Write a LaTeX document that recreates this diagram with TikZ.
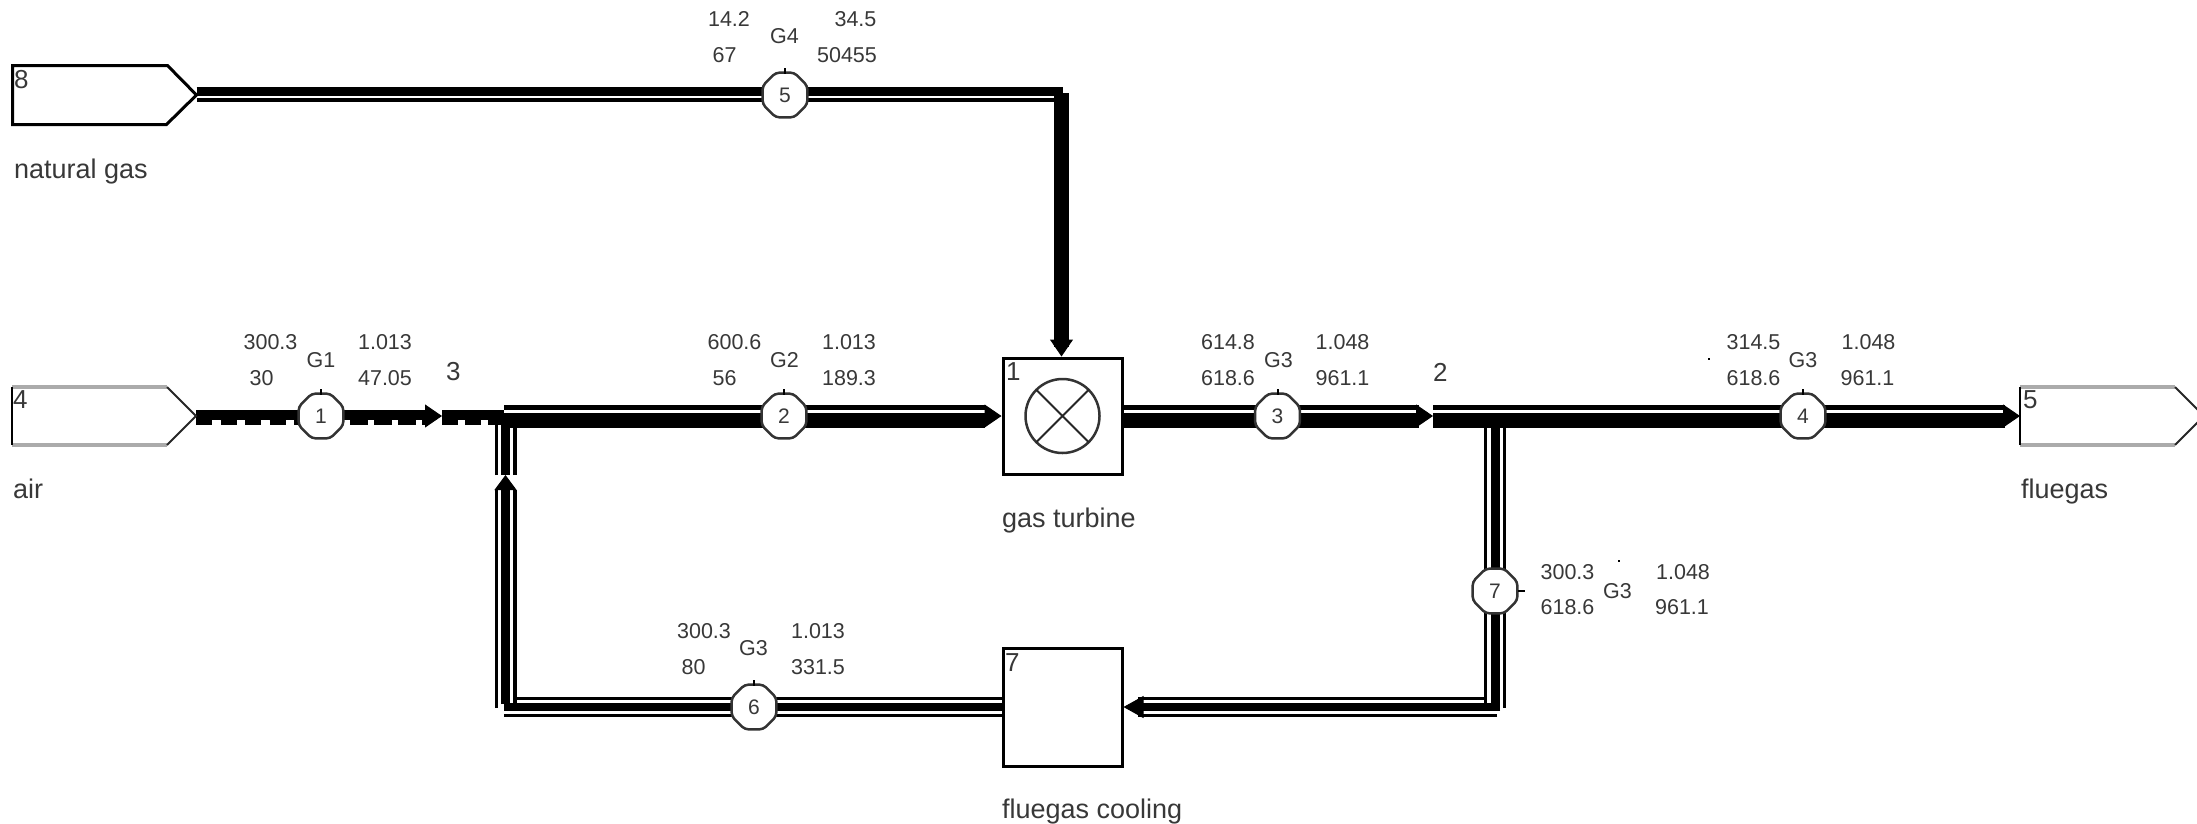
\documentclass[tikz,border=0pt]{standalone}
\usepackage{fontspec}
\setmainfont{Liberation Sans}
\usetikzlibrary{shapes.geometric,arrows.meta,backgrounds,calc}
\definecolor{txt}{gray}{0.22}
\definecolor{edgegray}{gray}{0.67}
\tikzset{
  datatxt/.style={inner sep=0pt,outer sep=0pt,text=txt,font=\fontsize{21.5pt}{24pt}\selectfont},
  nametxt/.style={inner sep=0pt,outer sep=0pt,anchor=base west,text=txt,font=\fontsize{27pt}{30pt}\selectfont},
  numtxt/.style={inner sep=0pt,outer sep=0pt,anchor=west,text=txt,font=\fontsize{26pt}{30pt}\selectfont},
  pump/.style={regular polygon,regular polygon sides=8,draw=black!80,line width=2.5pt,fill=white,rounded corners=4pt,
    minimum size=48.5pt,inner sep=0pt,outer sep=0pt,text=txt,font=\fontsize{21pt}{24pt}\selectfont},
  unitbox/.style={draw=black,line width=3pt,fill=white,minimum width=119pt,inner sep=0pt,outer sep=1.5pt},
  srcanchor/.style={inner sep=0pt,outer sep=0pt,minimum width=184pt},
  tick/.style={draw=black,line width=2pt},
  flow/.style={line width=1pt,-{Triangle[length=17pt,width=23pt]}},
  flowplain/.style={line width=1pt},
  wide/.style={line width=15pt},
  slim/.style={line width=5pt},
  midwide/.style={line width=8.5pt},
  hair/.style={line width=3.2pt},
}
\newcommand{\dlab}[4]{\node[datatxt] (#1) at (#2,#3) {#4};}
\newcommand{\mainduct}[3][0pt]{%
  \draw[wide,shorten >=#1] ([yshift=-4.5pt]#2) -- ([yshift=-4.5pt]#3);
  \draw[slim,shorten >=#1] ([yshift=8.5pt]#2) -- ([yshift=8.5pt]#3);}
\newcommand{\coolduct}[2]{%
  \draw[midwide] (#1) -- (#2);
  \draw[hair] ([yshift=8.5pt]#1) -- ([yshift=8.5pt]#2);
  \draw[hair] ([yshift=-8.5pt]#1) -- ([yshift=-8.5pt]#2);}
\begin{document}
\begin{tikzpicture}[x=1pt,y=-1pt]
\useasboundingbox (0,0) rectangle (2197,823);
\clip (0,0) rectangle (2197,823);

% sources and sinks
\node[srcanchor,minimum height=59pt] (src8) at (104.5,95) {};
\node[srcanchor,minimum height=58pt] (src4) at (104,416) {};
\node[srcanchor,minimum height=58pt] (src5) at (2112,416) {};
\draw[black,line width=3pt,line join=miter] (src8.north west) -- ++(155,0) -- (src8.east) -- ++(-30,29.5) -- (src8.south west) -- cycle;
\foreach \s in {src4,src5}{
  \draw[edgegray,line width=4pt] (\s.north west) -- ++(155,0);
  \draw[edgegray,line width=4pt] (\s.south west) -- ++(155,0);
  \draw[black!85,line width=2pt] ($(\s.north west)+(155,0)$) -- (\s.east) -- ($(\s.south west)+(155,0)$);
  \draw[black,line width=2pt] (\s.north west) -- (\s.south west);
}

% units
\node[unitbox,minimum height=116pt] (gt) at (1062.5,416) {};
\node[unitbox,minimum height=118pt] (fc) at (1062.5,707) {};
\node[circle,draw=black!80,line width=2.5pt,minimum size=74pt,inner sep=0pt,outer sep=0pt] (gtc) at (gt.center) {};
\draw[black!85,line width=2pt] (gtc.45) -- (gtc.225) (gtc.135) -- (gtc.315);

% measuring points
\node[pump] (p1) at (321,416) {1};
\node[pump] (p2) at (784,416) {2};
\node[pump] (p3) at (1277.5,416) {3};
\node[pump] (p4) at (1803,416) {4};
\node[pump] (p5) at (785,95) {5};
\node[pump] (p6) at (754,707) {6};
\node[pump] (p7) at (1495,591) {7};
\foreach \p in {p1,p2,p3,p4,p5,p6}{\draw[tick] ([yshift=-1pt]\p.north) -- ++(0,-6);}
\draw[tick] ([xshift=1pt]p7.east) -- ++(7,0);

% junctions
\coordinate (a3) at (442,416);
\coordinate (mix) at (504,416);
\coordinate (split) at (1433,416);
\coordinate (split7) at (1495,416);
\coordinate (c5) at (1061.5,95);
\coordinate (c7) at (1495,707);
\coordinate (c6) at (505.5,707);
\coordinate (a6) at (505.5,475);

\begin{scope}[on background layer]
  % natural gas
  \draw[line width=9pt] ([yshift=3.5pt]src8.east) -- ([yshift=3.5pt]p5.center);
  \draw[line width=4pt] ([yshift=-5pt]src8.east) -- ([yshift=-5pt]p5.center);
  \draw[line width=9pt] ([yshift=3.5pt]p5.center) -- ([yshift=3.5pt,xshift=1.5pt]c5);
  \draw[line width=4pt] ([yshift=-5pt]p5.center) -- ([yshift=-5pt]c5);
  \draw[line width=15pt,shorten >=10pt] ([yshift=2pt]c5) -- (c5 |- gt.north);
  \draw[flowplain] (src8) -- (p5);
  \draw[flowplain] (p5) -- (c5);
  \draw[flow] (c5) -- (c5 |- gt.north);

  % air
  \draw[line width=10pt] ([yshift=1pt]src4.east) -- ([yshift=1pt]p1.center);
  \draw[line width=5pt,dash pattern=on 16pt off 8.5pt] ([yshift=-6.5pt]src4.east) -- ([yshift=-6.5pt]p1.center);
  \draw[line width=10pt,shorten >=17pt] ([yshift=1pt]p1.center) -- ([yshift=1pt]a3);
  \draw[line width=5pt,dash pattern=on 18pt off 6pt,shorten >=17pt] ([yshift=-6.5pt,xshift=29pt]p1.center) -- ([yshift=-6.5pt]a3);
  \draw[line width=10pt] ([yshift=1pt]a3) -- ([yshift=1pt]mix);
  \draw[line width=5pt,dash pattern=on 16pt off 7pt] ([yshift=-6.5pt]a3) -- ([yshift=-6.5pt]mix);
  \draw[flowplain] (src4) -- (p1);
  \draw[flow] (p1) -- (a3);
  \draw[flowplain] (a3) -- (mix);

  % main line
  \mainduct{mix}{p2.center}
  \mainduct[17pt]{p2.center}{gt.west}
  \mainduct{gt.center}{p3.center}
  \mainduct[14pt]{p3.center}{split}
  \mainduct{split}{p4.center}
  \mainduct[15pt]{p4.center}{src5.west}
  \draw[flowplain] (mix) -- (p2);
  \draw[flow] (p2) -- (gt);
  \draw[flowplain] (gt) -- (p3);
  \draw[flow] (p3) -- (split);
  \draw[flowplain] (split) -- (p4);
  \draw[flow] (p4) -- (src5.west);

  % branch to cooling
  \draw[line width=9pt] ([xshift=.5pt]split7) -- ([xshift=.5pt,yshift=-3pt]c7);
  \draw[hair] ([xshift=-9.5pt,yshift=-12pt]split7) -- ([xshift=-9.5pt,yshift=4pt]c7);
  \draw[hair] ([xshift=9.5pt,yshift=-12pt]split7) -- ([xshift=9.5pt,yshift=-1pt]c7);
  \draw[flowplain] (split7) -- (p7);
  \draw[flowplain] (p7) -- (c7);
  \draw[line width=8.5pt,shorten >=14pt] ([xshift=5pt]c7) -- (fc.east);
  \draw[hair,shorten >=14pt] ([yshift=8.5pt,xshift=-9pt]c7) -- ([yshift=8.5pt]fc.east);
  \draw[hair,shorten >=14pt] ([yshift=-8.5pt,xshift=2pt]c7) -- ([yshift=-8.5pt]fc.east);
  \draw[line width=1pt,-{Triangle[length=20pt,width=22pt]}] (c7) -- (fc.east);

  % recycle
  \coolduct{fc.center}{p6.center}
  \draw[midwide] (p6.center) -- ([xshift=-1.5pt]c6);
  \draw[hair] ([yshift=8.5pt]p6.center) -- ([yshift=8.5pt,xshift=8pt]c6);
  \draw[hair] ([yshift=-8.5pt]p6.center) -- ([yshift=-8.5pt,xshift=-1.5pt]c6);
  \draw[flowplain] (fc) -- (p6);
  \draw[flowplain] (p6) -- (c6);
  \draw[line width=9pt,shorten >=15pt] ([yshift=3pt]c6) -- (a6);
  \draw[hair,shorten >=15pt] ([xshift=-9pt,yshift=-1pt]c6) -- ([xshift=-9pt]a6);
  \draw[hair,shorten >=15pt] ([xshift=9.5pt,yshift=4pt]c6) -- ([xshift=9.5pt]a6);
  \draw[line width=1pt,-{Triangle[length=15pt,width=22pt]}] (c6) -- (a6);
  \draw[line width=9pt] (a6) -- (a6 |- mix);
  \draw[hair] ([xshift=-9pt]a6) -- ([xshift=-9pt]a6 |- mix);
  \draw[hair] ([xshift=9.5pt]a6) -- ([xshift=9.5pt,yshift=-12pt]a6 |- mix);
\end{scope}

% unit numbers and names
\node[numtxt] (n8) at (14,80) {8};
\node[numtxt] (n4) at (13,400) {4};
\node[numtxt] (n5) at (2023,400) {5};
\node[numtxt] (n1) at (1006,372) {1};
\node[numtxt] (n7) at (1005,663) {7};
\node[numtxt] (n3) at (446,372) {3};
\node[numtxt] (n2) at (1433,372) {2};
\node[nametxt] (l8) at (14,178) {natural gas};
\node[nametxt] (l4) at (13,498) {air};
\node[nametxt] (l1) at (1002,527) {gas turbine};
\node[nametxt] (l5) at (2021,498) {fluegas};
\node[nametxt] (l7) at (1002,818) {fluegas cooling};

% point data
\dlab{a5}{729}{19}{14.2}\dlab{b5}{855.5}{19}{34.5}\dlab{g5}{784.5}{36}{G4}\dlab{c5t}{724.5}{55}{67}\dlab{d5}{847}{55}{50455}
\dlab{a1}{270.5}{342}{300.3}\dlab{b1}{385}{342}{1.013}\dlab{g1}{321}{360}{G1}\dlab{c1}{261.5}{378}{30}\dlab{d1}{385}{378}{47.05}
\dlab{a2}{734.5}{342}{600.6}\dlab{b2}{849}{342}{1.013}\dlab{g2}{784.5}{360}{G2}\dlab{c2}{724.5}{378}{56}\dlab{d2}{849}{378}{189.3}
\dlab{a3t}{1228}{342}{614.8}\dlab{b3}{1342.5}{342}{1.048}\dlab{g3}{1278.5}{360}{G3}\dlab{c3}{1228}{378}{618.6}\dlab{d3}{1342.5}{378}{961.1}
\dlab{a4}{1753.5}{342}{314.5}\dlab{b4}{1868.5}{342}{1.048}\dlab{g4}{1803}{360}{G3}\dlab{c4}{1753.5}{378}{618.6}\dlab{d4}{1867.5}{378}{961.1}
\dlab{a6t}{704}{631}{300.3}\dlab{b6}{818}{631}{1.013}\dlab{g6}{753.5}{648}{G3}\dlab{c6t}{693.5}{667}{80}\dlab{d6}{818}{667}{331.5}
\dlab{a7}{1567.5}{572}{300.3}\dlab{b7}{1683}{572}{1.048}\dlab{g7}{1617.5}{591}{G3}\dlab{c7t}{1567.5}{607}{618.6}\dlab{d7}{1682}{607}{961.1}

% stray specks
\fill (1708,358) rectangle (1710,360);
\fill (1618,560) rectangle (1620,562);
\end{tikzpicture}
\end{document}
